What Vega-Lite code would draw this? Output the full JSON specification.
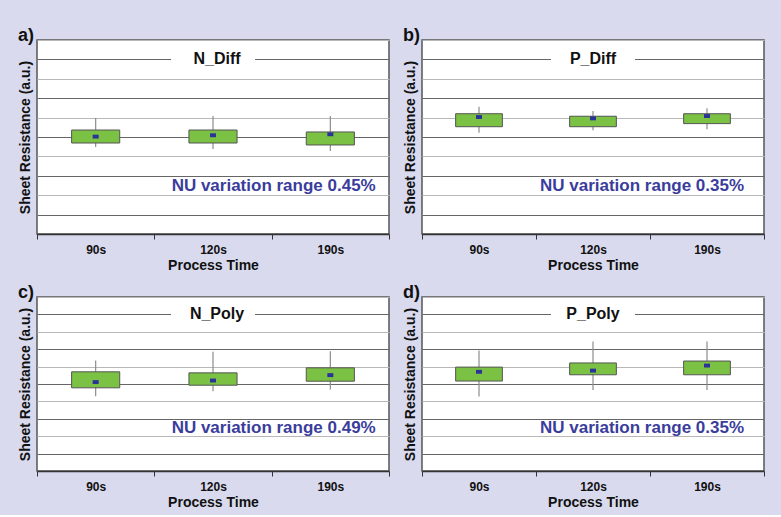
{
  "$schema": "https://vega.github.io/schema/vega-lite/v6.json",
  "background": "#d9daee",
  "padding": {"left": 17, "top": 26, "right": 15, "bottom": 5},
  "datasets": {
    "boxes": [
      {"p": "a", "t": "90s", "lo": 4.48, "q1": 4.69, "q3": 5.36, "hi": 5.98, "mean": 5.02},
      {"p": "a", "t": "120s", "lo": 4.38, "q1": 4.69, "q3": 5.36, "hi": 6.08, "mean": 5.09},
      {"p": "a", "t": "190s", "lo": 4.28, "q1": 4.59, "q3": 5.26, "hi": 6.08, "mean": 5.14},
      {"p": "b", "t": "90s", "lo": 5.22, "q1": 5.53, "q3": 6.2, "hi": 6.56, "mean": 6.03},
      {"p": "b", "t": "120s", "lo": 5.35, "q1": 5.53, "q3": 6.07, "hi": 6.34, "mean": 5.96},
      {"p": "b", "t": "190s", "lo": 5.4, "q1": 5.69, "q3": 6.2, "hi": 6.48, "mean": 6.08},
      {"p": "c", "t": "90s", "lo": 4.3, "q1": 4.78, "q3": 5.7, "hi": 6.35, "mean": 5.11},
      {"p": "c", "t": "120s", "lo": 4.59, "q1": 4.93, "q3": 5.64, "hi": 6.85, "mean": 5.2},
      {"p": "c", "t": "190s", "lo": 4.69, "q1": 5.16, "q3": 5.93, "hi": 6.88, "mean": 5.51},
      {"p": "d", "t": "90s", "lo": 4.28, "q1": 5.17, "q3": 5.97, "hi": 6.93, "mean": 5.7},
      {"p": "d", "t": "120s", "lo": 4.66, "q1": 5.53, "q3": 6.21, "hi": 7.44, "mean": 5.77},
      {"p": "d", "t": "190s", "lo": 4.66, "q1": 5.53, "q3": 6.32, "hi": 7.44, "mean": 6.06}
    ],
    "panels": [
      {"p": "a", "name": "N_Diff", "nu": "NU variation range 0.45%"},
      {"p": "b", "name": "P_Diff", "nu": "NU variation range 0.35%"},
      {"p": "c", "name": "N_Poly", "nu": "NU variation range 0.49%"},
      {"p": "d", "name": "P_Poly", "nu": "NU variation range 0.35%"}
    ]
  },
  "vconcat": [
    {
      "spacing": 11,
      "hconcat": [
        {
          "width": 352, "height": 194,
          "title": {"text": "a)"},
          "layer": [
            {"data": {"name": "boxes"}, "transform": [{"filter": "datum.p === 'a'"}],
             "layer": [
              {"mark": {"type": "rule", "color": "#8c8c8c", "strokeWidth": 1.2},
               "encoding": {
                 "x": {"field": "t", "type": "nominal", "sort": null, "title": "Process Time", "scale": {"type": "band", "domain": ["90s", "120s", "190s"], "paddingInner": 0, "paddingOuter": 0}},
                 "y": {"field": "lo", "type": "quantitative", "title": "Sheet Resistance (a.u.)", "scale": {"domain": [0, 10]}},
                 "y2": {"field": "hi"}}},
              {"mark": {"type": "bar", "fill": "#7bc143", "stroke": "#555555", "strokeWidth": 1, "width": {"band": 0.41}},
               "encoding": {
                 "x": {"field": "t", "type": "nominal", "sort": null, "title": "Process Time", "scale": {"type": "band", "domain": ["90s", "120s", "190s"], "paddingInner": 0, "paddingOuter": 0}},
                 "y": {"field": "q1", "type": "quantitative", "title": "Sheet Resistance (a.u.)", "scale": {"domain": [0, 10]}},
                 "y2": {"field": "q3"}}},
              {"mark": {"type": "point", "shape": "M-1,-0.65L1,-0.65L1,0.65L-1,0.65Z", "size": 36, "filled": true, "fill": "#2b3399", "opacity": 1, "strokeWidth": 0},
               "encoding": {
                 "x": {"field": "t", "type": "nominal", "sort": null, "title": "Process Time", "scale": {"type": "band", "domain": ["90s", "120s", "190s"], "paddingInner": 0, "paddingOuter": 0}},
                 "y": {"field": "mean", "type": "quantitative", "title": "Sheet Resistance (a.u.)", "scale": {"domain": [0, 10]}}}}
             ]},
            {"data": {"name": "panels"}, "transform": [{"filter": "datum.p === 'a'"}],
             "layer": [
              {"mark": {"type": "point", "shape": "M-1,-0.2L1,-0.2L1,0.2L-1,0.2Z", "size": 7056, "filled": true, "fill": "white", "opacity": 1, "strokeWidth": 0},
               "encoding": {
                 "x": {"datum": "120s", "type": "nominal", "title": "Process Time", "scale": {"type": "band", "domain": ["90s", "120s", "190s"], "paddingInner": 0, "paddingOuter": 0}},
                 "y": {"datum": 9, "type": "quantitative", "title": "Sheet Resistance (a.u.)", "scale": {"domain": [0, 10]}}}},
              {"mark": {"type": "text", "fontSize": 16, "fontWeight": "bold", "color": "#111111", "baseline": "middle", "dx": 4},
               "encoding": {
                 "x": {"datum": "120s", "type": "nominal", "title": "Process Time", "scale": {"type": "band", "domain": ["90s", "120s", "190s"], "paddingInner": 0, "paddingOuter": 0}},
                 "y": {"datum": 9, "type": "quantitative", "title": "Sheet Resistance (a.u.)", "scale": {"domain": [0, 10]}},
                 "text": {"field": "name"}}},
              {"mark": {"type": "text", "fontSize": 17, "fontWeight": "bold", "color": "#3a3d9c", "baseline": "middle", "dx": 2},
               "encoding": {
                 "x": {"datum": "190s", "type": "nominal", "bandPosition": 0, "title": "Process Time", "scale": {"type": "band", "domain": ["90s", "120s", "190s"], "paddingInner": 0, "paddingOuter": 0}},
                 "y": {"datum": 2.5, "type": "quantitative", "title": "Sheet Resistance (a.u.)", "scale": {"domain": [0, 10]}},
                 "text": {"field": "nu"}}}
             ]}
          ]
        },
        {
          "width": 342, "height": 194,
          "title": {"text": "b)"},
          "layer": [
            {"data": {"name": "boxes"}, "transform": [{"filter": "datum.p === 'b'"}],
             "layer": [
              {"mark": {"type": "rule", "color": "#8c8c8c", "strokeWidth": 1.2},
               "encoding": {
                 "x": {"field": "t", "type": "nominal", "sort": null, "title": "Process Time", "scale": {"type": "band", "domain": ["90s", "120s", "190s"], "paddingInner": 0, "paddingOuter": 0}},
                 "y": {"field": "lo", "type": "quantitative", "title": "Sheet Resistance (a.u.)", "scale": {"domain": [0, 10]}},
                 "y2": {"field": "hi"}}},
              {"mark": {"type": "bar", "fill": "#7bc143", "stroke": "#555555", "strokeWidth": 1, "width": {"band": 0.41}},
               "encoding": {
                 "x": {"field": "t", "type": "nominal", "sort": null, "title": "Process Time", "scale": {"type": "band", "domain": ["90s", "120s", "190s"], "paddingInner": 0, "paddingOuter": 0}},
                 "y": {"field": "q1", "type": "quantitative", "title": "Sheet Resistance (a.u.)", "scale": {"domain": [0, 10]}},
                 "y2": {"field": "q3"}}},
              {"mark": {"type": "point", "shape": "M-1,-0.65L1,-0.65L1,0.65L-1,0.65Z", "size": 36, "filled": true, "fill": "#2b3399", "opacity": 1, "strokeWidth": 0},
               "encoding": {
                 "x": {"field": "t", "type": "nominal", "sort": null, "title": "Process Time", "scale": {"type": "band", "domain": ["90s", "120s", "190s"], "paddingInner": 0, "paddingOuter": 0}},
                 "y": {"field": "mean", "type": "quantitative", "title": "Sheet Resistance (a.u.)", "scale": {"domain": [0, 10]}}}}
             ]},
            {"data": {"name": "panels"}, "transform": [{"filter": "datum.p === 'b'"}],
             "layer": [
              {"mark": {"type": "point", "shape": "M-1,-0.2L1,-0.2L1,0.2L-1,0.2Z", "size": 7056, "filled": true, "fill": "white", "opacity": 1, "strokeWidth": 0},
               "encoding": {
                 "x": {"datum": "120s", "type": "nominal", "title": "Process Time", "scale": {"type": "band", "domain": ["90s", "120s", "190s"], "paddingInner": 0, "paddingOuter": 0}},
                 "y": {"datum": 9, "type": "quantitative", "title": "Sheet Resistance (a.u.)", "scale": {"domain": [0, 10]}}}},
              {"mark": {"type": "text", "fontSize": 16, "fontWeight": "bold", "color": "#111111", "baseline": "middle"},
               "encoding": {
                 "x": {"datum": "120s", "type": "nominal", "title": "Process Time", "scale": {"type": "band", "domain": ["90s", "120s", "190s"], "paddingInner": 0, "paddingOuter": 0}},
                 "y": {"datum": 9, "type": "quantitative", "title": "Sheet Resistance (a.u.)", "scale": {"domain": [0, 10]}},
                 "text": {"field": "name"}}},
              {"mark": {"type": "text", "fontSize": 17, "fontWeight": "bold", "color": "#3a3d9c", "baseline": "middle", "dx": -8},
               "encoding": {
                 "x": {"datum": "190s", "type": "nominal", "bandPosition": 0, "title": "Process Time", "scale": {"type": "band", "domain": ["90s", "120s", "190s"], "paddingInner": 0, "paddingOuter": 0}},
                 "y": {"datum": 2.5, "type": "quantitative", "title": "Sheet Resistance (a.u.)", "scale": {"domain": [0, 10]}},
                 "text": {"field": "nu"}}}
             ]}
          ]
        }
      ]
    },
    {
      "spacing": 11,
      "hconcat": [
        {
          "width": 352, "height": 174,
          "title": {"text": "c)"},
          "layer": [
            {"data": {"name": "boxes"}, "transform": [{"filter": "datum.p === 'c'"}],
             "layer": [
              {"mark": {"type": "rule", "color": "#8c8c8c", "strokeWidth": 1.2},
               "encoding": {
                 "x": {"field": "t", "type": "nominal", "sort": null, "title": "Process Time", "scale": {"type": "band", "domain": ["90s", "120s", "190s"], "paddingInner": 0, "paddingOuter": 0}},
                 "y": {"field": "lo", "type": "quantitative", "title": "Sheet Resistance (a.u.)", "scale": {"domain": [0, 10]}},
                 "y2": {"field": "hi"}}},
              {"mark": {"type": "bar", "fill": "#7bc143", "stroke": "#555555", "strokeWidth": 1, "width": {"band": 0.41}},
               "encoding": {
                 "x": {"field": "t", "type": "nominal", "sort": null, "title": "Process Time", "scale": {"type": "band", "domain": ["90s", "120s", "190s"], "paddingInner": 0, "paddingOuter": 0}},
                 "y": {"field": "q1", "type": "quantitative", "title": "Sheet Resistance (a.u.)", "scale": {"domain": [0, 10]}},
                 "y2": {"field": "q3"}}},
              {"mark": {"type": "point", "shape": "M-1,-0.65L1,-0.65L1,0.65L-1,0.65Z", "size": 36, "filled": true, "fill": "#2b3399", "opacity": 1, "strokeWidth": 0},
               "encoding": {
                 "x": {"field": "t", "type": "nominal", "sort": null, "title": "Process Time", "scale": {"type": "band", "domain": ["90s", "120s", "190s"], "paddingInner": 0, "paddingOuter": 0}},
                 "y": {"field": "mean", "type": "quantitative", "title": "Sheet Resistance (a.u.)", "scale": {"domain": [0, 10]}}}}
             ]},
            {"data": {"name": "panels"}, "transform": [{"filter": "datum.p === 'c'"}],
             "layer": [
              {"mark": {"type": "point", "shape": "M-1,-0.2L1,-0.2L1,0.2L-1,0.2Z", "size": 7056, "filled": true, "fill": "white", "opacity": 1, "strokeWidth": 0},
               "encoding": {
                 "x": {"datum": "120s", "type": "nominal", "title": "Process Time", "scale": {"type": "band", "domain": ["90s", "120s", "190s"], "paddingInner": 0, "paddingOuter": 0}},
                 "y": {"datum": 9, "type": "quantitative", "title": "Sheet Resistance (a.u.)", "scale": {"domain": [0, 10]}}}},
              {"mark": {"type": "text", "fontSize": 16, "fontWeight": "bold", "color": "#111111", "baseline": "middle", "dx": 4},
               "encoding": {
                 "x": {"datum": "120s", "type": "nominal", "title": "Process Time", "scale": {"type": "band", "domain": ["90s", "120s", "190s"], "paddingInner": 0, "paddingOuter": 0}},
                 "y": {"datum": 9, "type": "quantitative", "title": "Sheet Resistance (a.u.)", "scale": {"domain": [0, 10]}},
                 "text": {"field": "name"}}},
              {"mark": {"type": "text", "fontSize": 17, "fontWeight": "bold", "color": "#3a3d9c", "baseline": "middle", "dx": 2},
               "encoding": {
                 "x": {"datum": "190s", "type": "nominal", "bandPosition": 0, "title": "Process Time", "scale": {"type": "band", "domain": ["90s", "120s", "190s"], "paddingInner": 0, "paddingOuter": 0}},
                 "y": {"datum": 2.5, "type": "quantitative", "title": "Sheet Resistance (a.u.)", "scale": {"domain": [0, 10]}},
                 "text": {"field": "nu"}}}
             ]}
          ]
        },
        {
          "width": 342, "height": 174,
          "title": {"text": "d)"},
          "layer": [
            {"data": {"name": "boxes"}, "transform": [{"filter": "datum.p === 'd'"}],
             "layer": [
              {"mark": {"type": "rule", "color": "#8c8c8c", "strokeWidth": 1.2},
               "encoding": {
                 "x": {"field": "t", "type": "nominal", "sort": null, "title": "Process Time", "scale": {"type": "band", "domain": ["90s", "120s", "190s"], "paddingInner": 0, "paddingOuter": 0}},
                 "y": {"field": "lo", "type": "quantitative", "title": "Sheet Resistance (a.u.)", "scale": {"domain": [0, 10]}},
                 "y2": {"field": "hi"}}},
              {"mark": {"type": "bar", "fill": "#7bc143", "stroke": "#555555", "strokeWidth": 1, "width": {"band": 0.41}},
               "encoding": {
                 "x": {"field": "t", "type": "nominal", "sort": null, "title": "Process Time", "scale": {"type": "band", "domain": ["90s", "120s", "190s"], "paddingInner": 0, "paddingOuter": 0}},
                 "y": {"field": "q1", "type": "quantitative", "title": "Sheet Resistance (a.u.)", "scale": {"domain": [0, 10]}},
                 "y2": {"field": "q3"}}},
              {"mark": {"type": "point", "shape": "M-1,-0.65L1,-0.65L1,0.65L-1,0.65Z", "size": 36, "filled": true, "fill": "#2b3399", "opacity": 1, "strokeWidth": 0},
               "encoding": {
                 "x": {"field": "t", "type": "nominal", "sort": null, "title": "Process Time", "scale": {"type": "band", "domain": ["90s", "120s", "190s"], "paddingInner": 0, "paddingOuter": 0}},
                 "y": {"field": "mean", "type": "quantitative", "title": "Sheet Resistance (a.u.)", "scale": {"domain": [0, 10]}}}}
             ]},
            {"data": {"name": "panels"}, "transform": [{"filter": "datum.p === 'd'"}],
             "layer": [
              {"mark": {"type": "point", "shape": "M-1,-0.2L1,-0.2L1,0.2L-1,0.2Z", "size": 7056, "filled": true, "fill": "white", "opacity": 1, "strokeWidth": 0},
               "encoding": {
                 "x": {"datum": "120s", "type": "nominal", "title": "Process Time", "scale": {"type": "band", "domain": ["90s", "120s", "190s"], "paddingInner": 0, "paddingOuter": 0}},
                 "y": {"datum": 9, "type": "quantitative", "title": "Sheet Resistance (a.u.)", "scale": {"domain": [0, 10]}}}},
              {"mark": {"type": "text", "fontSize": 16, "fontWeight": "bold", "color": "#111111", "baseline": "middle"},
               "encoding": {
                 "x": {"datum": "120s", "type": "nominal", "title": "Process Time", "scale": {"type": "band", "domain": ["90s", "120s", "190s"], "paddingInner": 0, "paddingOuter": 0}},
                 "y": {"datum": 9, "type": "quantitative", "title": "Sheet Resistance (a.u.)", "scale": {"domain": [0, 10]}},
                 "text": {"field": "name"}}},
              {"mark": {"type": "text", "fontSize": 17, "fontWeight": "bold", "color": "#3a3d9c", "baseline": "middle", "dx": -8},
               "encoding": {
                 "x": {"datum": "190s", "type": "nominal", "bandPosition": 0, "title": "Process Time", "scale": {"type": "band", "domain": ["90s", "120s", "190s"], "paddingInner": 0, "paddingOuter": 0}},
                 "y": {"datum": 2.5, "type": "quantitative", "title": "Sheet Resistance (a.u.)", "scale": {"domain": [0, 10]}},
                 "text": {"field": "nu"}}}
             ]}
          ]
        }
      ]
    }
  ],
  "spacing": 10,
  "config": {
    "font": "Liberation Sans",
    "view": {"fill": "white", "stroke": "#555555", "strokeWidth": 1.5},
    "title": {"fontSize": 18, "fontWeight": "bold", "anchor": "start", "frame": "bounds", "offset": -5, "color": "#111111"},
    "axisX": {"labelAngle": 0, "tickBand": "extent", "labelFontWeight": "bold", "labelFontSize": 12, "labelColor": "#111111", "titleFontSize": 14, "titleFontWeight": "bold", "titleColor": "#111111", "domainColor": "#333333", "domainWidth": 1.5, "tickColor": "#333333", "tickSize": 5, "labelPadding": 5, "titlePadding": 3, "grid": false},
    "axisY": {"labels": false, "ticks": false, "domain": false, "titleFontSize": 14, "titleFontWeight": "bold", "titleColor": "#111111", "titlePadding": 5, "tickCount": 10, "grid": true, "gridWidth": 1, "gridColor": {"condition": {"test": "datum.value % 2 === 1", "value": "#666666"}, "value": "#b8b8b8"}}
  }
}
